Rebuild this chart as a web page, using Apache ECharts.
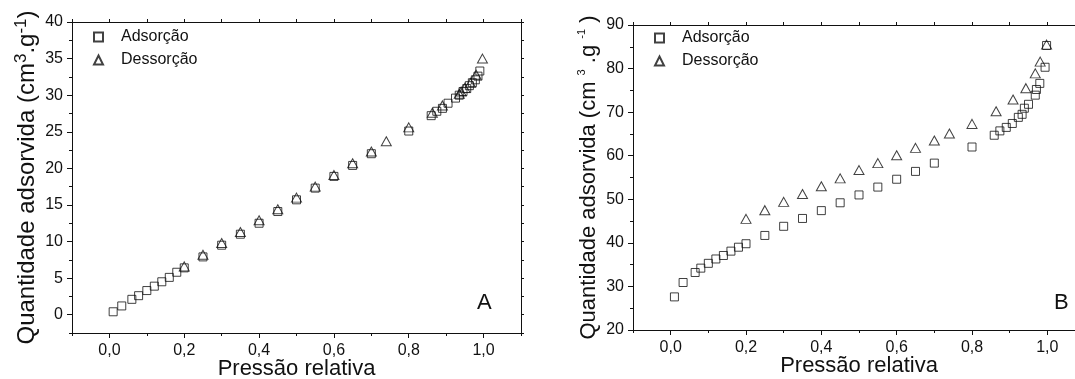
<!DOCTYPE html>
<html><head><meta charset="utf-8">
<script src="https://cdn.jsdelivr.net/npm/echarts@6/dist/echarts.min.js"></script>
<style>html,body{margin:0;padding:0;background:#fff}#c{width:1075px;height:379px}</style>
</head><body><div id="c"></div>
<script>
// ---- Data: chart A ----
const aAdsX = [0.01,0.033,0.06,0.078,0.1,0.12,0.14,0.16,0.18,0.2,0.25,0.3,0.35,0.4,0.45,0.5,0.55,0.6,0.65,0.7,0.8,0.86,0.875,0.89,0.905,0.925,0.935,0.945,0.955,0.962,0.97,0.978,0.985,0.99];
const aAdsY = [0.4,1.2,2.1,2.6,3.3,3.9,4.5,5.1,5.8,6.4,7.9,9.5,11.0,12.5,14.1,15.7,17.3,18.9,20.4,22.0,25.1,27.2,27.8,28.2,28.9,29.6,30.0,30.5,30.9,31.3,31.7,32.1,32.6,33.3];
const aDesX = [0.997,0.98,0.965,0.95,0.94,0.935,0.89,0.863,0.8,0.74,0.7,0.65,0.6,0.55,0.5,0.45,0.4,0.35,0.3,0.25,0.2];
const aDesY = [35.0,32.8,31.7,31.0,30.5,30.2,28.6,27.6,25.6,23.7,22.3,20.7,19.1,17.5,16.0,14.4,12.9,11.3,9.8,8.2,6.6];
// ---- Data: chart B ----
const bAdsX = [0.01,0.033,0.065,0.08,0.1,0.12,0.14,0.16,0.18,0.2,0.25,0.3,0.35,0.4,0.45,0.5,0.55,0.6,0.65,0.7,0.8,0.859,0.874,0.891,0.907,0.923,0.933,0.939,0.95,0.968,0.971,0.98,0.994,0.998];
const bAdsY = [27.6,30.9,33.2,34.2,35.3,36.3,37.1,38.1,39.0,39.8,41.7,43.8,45.6,47.4,49.2,51.0,52.8,54.6,56.4,58.3,62.0,64.7,65.7,66.5,67.4,68.8,69.5,70.9,71.8,73.9,75.2,76.6,80.3,85.3];
const bDesX = [0.998,0.981,0.968,0.943,0.909,0.864,0.8,0.74,0.7,0.65,0.6,0.55,0.5,0.45,0.4,0.35,0.3,0.25,0.2];
const bDesY = [85.5,81.6,78.9,75.5,72.9,70.2,67.3,65.1,63.5,61.8,60.1,58.3,56.7,54.8,53.0,51.2,49.4,47.5,45.5];
// ---- Tick labels ----
const xMajorTicks = [0,0.2,0.4,0.6,0.8,1.0];
const xMinorTicks = [-0.1,0.1,0.3,0.5,0.7,0.9,1.1];
const xAllTicks = [-0.1,0,0.1,0.2,0.3,0.4,0.5,0.6,0.7,0.8,0.9,1.0,1.1];
const yMajorA = [0,5,10,15,20,25,30,35,40];
const yMinorA = [-2.5,2.5,7.5,12.5,17.5,22.5,27.5,32.5,37.5];
const yMajorB = [20,30,40,50,60,70,80,90];
const yMinorB = [25,35,45,55,65,75,85];
const seriesNames = ['Adsorção','Dessorção'];
const xTitle = 'Pressão relativa';
const panelLabels = ['A','B'];

const FONT = "'Liberation Sans', Arial, sans-serif";
const INK = '#111';

function zip(xs, ys){ return xs.map((x,i)=>[x, ys[i]]); }
const fmtX = v => (Math.round(v*10)/10).toFixed(1).replace('.', ',');

function xAxes(grid){
  const base = {type:'value', gridIndex:grid, min:-0.1, max:1.1, splitLine:{show:false},
    axisLine:{show:true, onZero:false, lineStyle:{color:INK, width:1}}};
  return [
    Object.assign({}, base, {position:'bottom',
      name: xTitle, nameLocation:'middle', nameGap:25, nameMoveOverlap:false,
      nameTextStyle:{fontFamily:FONT, fontSize:22, color:INK, verticalAlign:'top'},
      axisTick:{show:true, length:5, customValues:xMajorTicks, lineStyle:{color:INK}},
      axisLabel:{show:true, margin:10, customValues:xMajorTicks, formatter:fmtX, fontFamily:FONT, fontSize:16, color:INK}}),
    Object.assign({}, base, {position:'bottom', axisLine:{show:false, onZero:false},
      axisTick:{show:true, length:3, customValues:xMinorTicks, lineStyle:{color:INK}},
      axisLabel:{show:false}}),
    Object.assign({}, base, {position:'top',
      axisTick:{show:true, length:3, customValues:xAllTicks, lineStyle:{color:INK}},
      axisLabel:{show:false}})
  ];
}
function yAxes(grid, min, max, major, minor, nameRich){
  const base = {type:'value', gridIndex:grid, min:min, max:max, splitLine:{show:false},
    axisLine:{show:true, onZero:false, lineStyle:{color:INK, width:1}}};
  return [
    Object.assign({}, base, {position:'left',
      name: nameRich.text, nameLocation:'middle', nameGap:nameRich.gap,
      nameTextStyle:{fontFamily:FONT, fontSize:nameRich.size, color:INK, rich:nameRich.rich},
      axisTick:{show:true, length:5, customValues:major, lineStyle:{color:INK}},
      axisLabel:{show:true, margin:9, customValues:major, fontFamily:FONT, fontSize:16, color:INK}}),
    Object.assign({}, base, {position:'left', axisLine:{show:false, onZero:false},
      axisTick:{show:true, length:3, customValues:minor, lineStyle:{color:INK}},
      axisLabel:{show:false}}),
    Object.assign({}, base, {position:'right',
      axisTick:{show:true, length:3, customValues:major.concat(minor), lineStyle:{color:INK}},
      axisLabel:{show:false}})
  ];
}

const nameA = {
  text: '{n|Quantidade adsorvida (cm}{s|3}{n|.g}{s|-1}{n|)}', size:24, gap:31,
  rich: { n:{fontFamily:FONT, fontSize:24, color:INK, lineHeight:28},
          s:{fontFamily:FONT, fontSize:17, color:INK, verticalAlign:'top', lineHeight:28} }
};
const nameB = {
  text: '{n|Quantidade adsorvida (cm }{s|3}{n| .g }{s|-1}{n| )}', size:22, gap:31,
  rich: { n:{fontFamily:FONT, fontSize:22, color:INK, lineHeight:26},
          s:{fontFamily:FONT, fontSize:11, color:INK, verticalAlign:'top', lineHeight:26} }
};

const mkStyle = {color:'transparent', borderColor:INK, borderWidth:1};
function sc(name, data, xi, yi, sym, size){
  return {type:'scatter', name:name, data:data, xAxisIndex:xi, yAxisIndex:yi,
    symbol:sym, symbolSize:size, itemStyle:mkStyle, emphasis:{disabled:true}, silent:true};
}

const legendBase = {orient:'vertical', itemWidth:9, itemHeight:9, itemGap:7,
  textStyle:{fontFamily:FONT, fontSize:16, color:INK, lineHeight:16, padding:[0,0,0,13]},
  data:seriesNames, selectedMode:false};

const option = {
  animation:false,
  backgroundColor:'#fff',
  grid:[
    {left:72, top:22, width:449, height:311, outerBoundsMode:'none', containLabel:false},
    {left:633, top:25, width:452, height:305, outerBoundsMode:'none', containLabel:false}
  ],
  legend:[
    Object.assign({}, legendBase, {left:88, top:24}),
    Object.assign({}, legendBase, {left:649, top:25})
  ],
  xAxis: xAxes(0).concat(xAxes(1)),
  yAxis: yAxes(0, -2.5, 40, yMajorA, yMinorA, nameA).concat(yAxes(1, 20, 90, yMajorB, yMinorB, nameB)),
  series:[
    sc(seriesNames[0], zip(aAdsX,aAdsY), 0, 0, 'rect', 8),
    sc(seriesNames[1], zip(aDesX,aDesY), 0, 0, 'triangle', [10,9]),
    sc(seriesNames[0], zip(bAdsX,bAdsY), 3, 3, 'rect', 8),
    sc(seriesNames[1], zip(bDesX,bDesY), 3, 3, 'triangle', [10,9])
  ],
  graphic:[
    {type:'text', left:477, top:292, style:{text:panelLabels[0], font:'22px '+FONT, fill:INK}},
    {type:'text', left:1054, top:292, style:{text:panelLabels[1], font:'22px '+FONT, fill:INK}}
  ]
};
const chart = echarts.init(document.getElementById('c'), null, {renderer:'canvas'});
chart.setOption(option);
</script>
</body></html>
